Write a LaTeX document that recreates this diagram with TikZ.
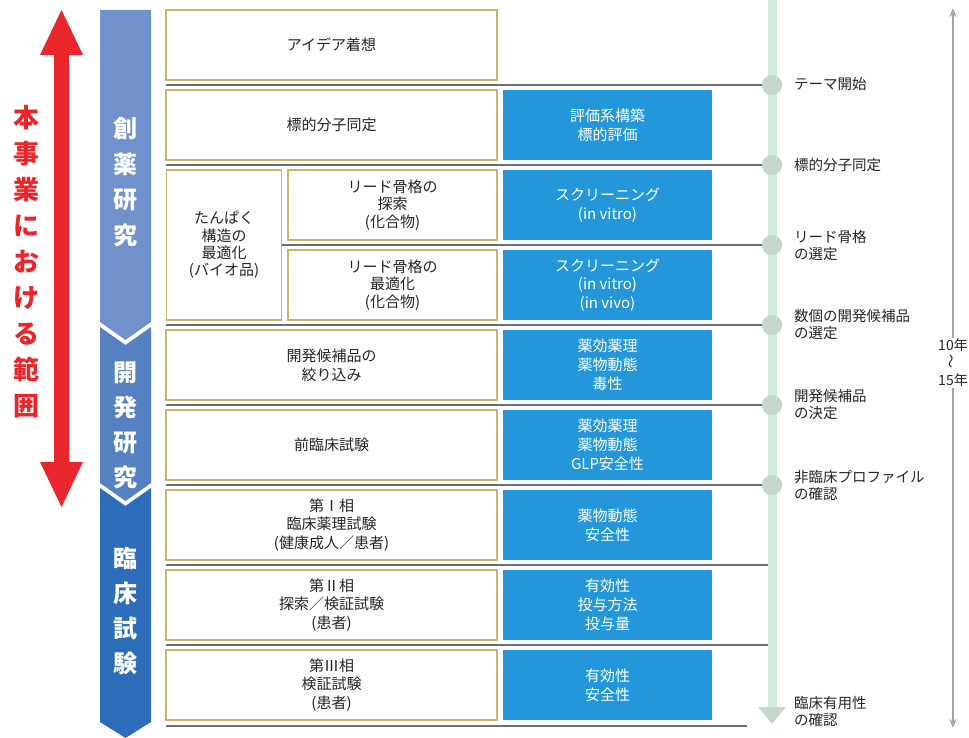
\documentclass[tikz,border=0pt]{standalone}
\usepackage{fontspec}
\setmainfont{Noto Sans CJK JP}
\usetikzlibrary{arrows.meta}
\definecolor{boxgold}{HTML}{C8B46A}
\definecolor{bluebox}{HTML}{2497DA}
\definecolor{sepgray}{HTML}{6E6E76}
\definecolor{tlgreen}{HTML}{D2EBDF}
\definecolor{tldot}{HTML}{C4D8CD}
\definecolor{redarrow}{HTML}{E8262C}
\definecolor{secA}{HTML}{7191CB}
\definecolor{secB}{HTML}{5581C2}
\definecolor{secC}{HTML}{2C6CB8}
\definecolor{timegray}{HTML}{A3A3A3}
\begin{document}
\begin{tikzpicture}[x=1pt,y=-1pt,
  txt/.style={font=\fontsize{15}{18.7}\selectfont, align=center, inner sep=0pt},
  wbox/.style={txt, draw=boxgold, line width=1.3pt, fill=white, text=black!85},
  bbox/.style={txt, fill=bluebox, text=white, minimum width=209pt, minimum height=70pt},
  sep/.style={draw=sepgray, line width=2.6pt},
  dot/.style={circle, fill=tldot, minimum size=20pt, inner sep=0pt},
  lbl/.style={font=\fontsize{14.5}{17}\selectfont, align=left, anchor=west, inner sep=0pt, text=black!85},
  sidetxt/.style={font=\bfseries\fontsize{24}{35.5}\selectfont, align=center, text=white, inner sep=0pt},
]
\useasboundingbox (0,0) rectangle (969,738);
\fill[white] (0,0) rectangle (969,738);

% red range arrow
\fill[redarrow] (61.5,10)--(83,55)--(69,55)--(69,462)--(83,462)--(61.5,507)--(40,462)--(54,462)--(54,55)--(40,55)--cycle;
\node[font=\bfseries\fontsize{26}{36}\selectfont, text=redarrow, align=center, inner sep=0pt] (range) at (26,262)
  {本\\事\\業\\に\\お\\け\\る\\範\\囲};

% stage column
\fill[secC] (100,488)--(125.5,506)--(151,488)--(151,722)--(125.5,738)--(100,722)--cycle;
\fill[secB] (100,327)--(125.5,345)--(151,327)--(151,483)--(125.5,501)--(100,483)--cycle;
\fill[secA] (100,10)--(151,10)--(151,322)--(125.5,340)--(100,322)--cycle;
\node[sidetxt] (s1) at (125.5,182) {創\\薬\\研\\究};
\node[sidetxt, font=\bfseries\fontsize{24}{35}\selectfont] (s2) at (125.5,425) {開\\発\\研\\究};
\node[sidetxt, font=\bfseries\fontsize{24}{35}\selectfont] (s3) at (125.5,611) {臨\\床\\試\\験};

% timeline
\draw[tlgreen, line width=9pt] (772,0) -- (772,712);
\fill[tldot] (758,707)--(786,707)--(772,724)--cycle;
\node[dot] (m1) at (772,85) {};
\node[dot] (m2) at (772,165) {};
\node[dot] (m3) at (772,245) {};
\node[dot] (m4) at (772,325) {};
\node[dot] (m5) at (772,405) {};
\node[dot] (m6) at (772,485) {};
\coordinate (m7) at (768,565);
\coordinate (m8) at (768,645);
\coordinate (m9) at (747,726);

% separators
\coordinate (l1) at (166,85);
\coordinate (l2) at (166,165);
\coordinate (l3) at (282,245);
\coordinate (l4) at (166,325);
\coordinate (l5) at (166,405);
\coordinate (l6) at (166,485);
\coordinate (l7) at (166,565);
\coordinate (l8) at (166,645);
\coordinate (l9) at (166,726);
\foreach \i in {1,...,9} { \draw[sep] (l\i) -- (m\i); }
\foreach \i in {1,...,6} { \node[dot] at (m\i) {}; }

% left boxes
\node[wbox, minimum width=331pt, minimum height=70pt] (a1) at (331.5,45) {アイデア着想};
\node[wbox, minimum width=331pt, minimum height=70pt] (a2) at (331.5,125) {標的分子同定};
\node[wbox, minimum width=115pt, minimum height=150pt, font=\fontsize{15}{17.3}\selectfont] (a3) at (224,245) {たんぱく\\構造の\\最適化\\(バイオ品)};
\node[wbox, minimum width=209pt, minimum height=70pt, font=\fontsize{15}{17.8}\selectfont] (a3a) at (392.5,205) {リード骨格の\\探索\\(化合物)};
\node[wbox, minimum width=209pt, minimum height=70pt, font=\fontsize{15}{17.8}\selectfont] (a3b) at (392.5,285) {リード骨格の\\最適化\\(化合物)};
\node[wbox, minimum width=331pt, minimum height=70pt] (a5) at (331.5,365) {開発候補品の\\絞り込み};
\node[wbox, minimum width=331pt, minimum height=70pt] (a6) at (331.5,445) {前臨床試験};
\node[wbox, minimum width=331pt, minimum height=70pt] (a7) at (331.5,525) {第Ⅰ相\\臨床薬理試験\\(健康成人／患者)};
\node[wbox, minimum width=331pt, minimum height=70pt] (a8) at (331.5,605) {第Ⅱ相\\探索／検証試験\\(患者)};
\node[wbox, minimum width=331pt, minimum height=70pt] (a9) at (331.5,685) {第Ⅲ相\\検証試験\\(患者)};

% blue boxes
\node[bbox] (b2) at (607.5,125) {評価系構築\\標的評価};
\node[bbox] (b3) at (607.5,205) {スクリーニング\\(in vitro)};
\node[bbox] (b4) at (607.5,285) {スクリーニング\\(in vitro)\\(in vivo)};
\node[bbox] (b5) at (607.5,365) {薬効薬理\\薬物動態\\毒性};
\node[bbox] (b6) at (607.5,445) {薬効薬理\\薬物動態\\GLP安全性};
\node[bbox] (b7) at (607.5,525) {薬物動態\\安全性};
\node[bbox] (b8) at (607.5,605) {有効性\\投与方法\\投与量};
\node[bbox] (b9) at (607.5,685) {有効性\\安全性};

% milestone labels
\node[lbl] (t1) at (794,84) {テーマ開始};
\node[lbl] (t2) at (794,165) {標的分子同定};
\node[lbl] (t3) at (794,246) {リード骨格\\の選定};
\node[lbl] (t4) at (794,325) {数個の開発候補品\\の選定};
\node[lbl] (t5) at (794,405) {開発候補品\\の決定};
\node[lbl] (t6) at (794,485) {非臨床プロファイル\\の確認};
\node[lbl] (t7) at (794,711) {臨床有用性\\の確認};

% duration arrow
\node[font=\fontsize{14}{17.5}\selectfont, align=center, inner sep=1pt, text=black!85] (dur) at (953,363)
  {10年\\\rotatebox{90}{～}\\15年};
\coordinate (topend) at (953,8);
\coordinate (botend) at (953,728);
\draw[timegray, line width=1.6pt, -{Stealth[length=9pt,width=7pt]}] (dur.north) -- (topend);
\draw[timegray, line width=1.6pt, -{Stealth[length=9pt,width=7pt]}] (dur.south) -- (botend);
\end{tikzpicture}
\end{document}
